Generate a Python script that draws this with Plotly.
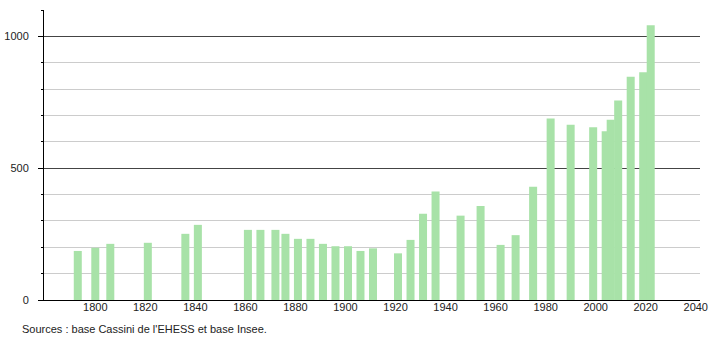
import plotly.graph_objects as go

years = [1793, 1800, 1806, 1821, 1836, 1841, 1861, 1866, 1872, 1876, 1881, 1886,
         1891, 1896, 1901, 1906, 1911, 1921, 1926, 1931, 1936, 1946, 1954, 1962,
         1968, 1975, 1982, 1990, 1999, 2004, 2006, 2009, 2014, 2019, 2022]
population = [186, 198, 213, 217, 251, 285, 266, 266, 266, 251, 232, 232,
              213, 204, 204, 186, 196, 177, 228, 327, 412, 320, 357, 209,
              246, 430, 688, 665, 655, 640, 684, 757, 847, 864, 1042]
x_ticks = [1800, 1820, 1840, 1860, 1880, 1900, 1920, 1940, 1960, 1980, 2000, 2020, 2040]
y_ticks = [0, 500, 1000]
source_text = "Sources : base Cassini de l'EHESS et base Insee."

fig = go.Figure()
fig.add_trace(go.Bar(
    x=years, y=population, width=3.2,
    marker=dict(color="#a8e2a8", line=dict(width=0)),
    hoverinfo="x+y",
))

fig.update_layout(
    width=710, height=340,
    margin=dict(l=44, r=10, t=10, b=40, autoexpand=False),
    paper_bgcolor="white", plot_bgcolor="white",
    showlegend=False,
    font=dict(family="Liberation Sans, Arial, sans-serif", size=11, color="#222"),
    xaxis=dict(
        range=[1779.5, 2041.7], tickmode="array", tickvals=x_ticks,
        showgrid=False, zeroline=False, automargin=False,
        showline=True, linecolor="black", linewidth=1,
        ticks="", tickfont=dict(size=11, color="#222"),
        ticklabelstandoff=-3,
    ),
    yaxis=dict(
        range=[0, 1100], tickmode="array", tickvals=y_ticks,
        showgrid=True, gridcolor="#444", gridwidth=1,
        zeroline=False, automargin=False,
        showline=True, linecolor="black", linewidth=1,
        ticks="outside", ticklen=5, tickcolor="black",
        tickfont=dict(size=11, color="#222"),
        ticklabelstandoff=7,
        minor=dict(dtick=100, showgrid=True, gridcolor="#cccccc", gridwidth=1,
                   ticks="outside", ticklen=2, tickcolor="black"),
    ),
    annotations=[dict(
        text=source_text, xref="paper", yref="paper",
        x=-24/656, y=-21/290, xanchor="left", yanchor="top",
        showarrow=False, font=dict(size=11, color="#222"),
    )],
)

fig.write_html("out.html")
